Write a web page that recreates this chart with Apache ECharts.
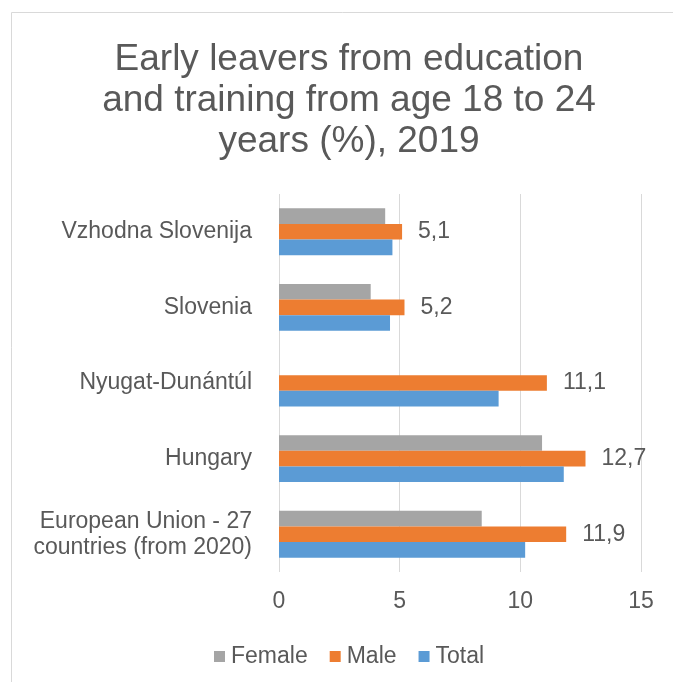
<!DOCTYPE html>
<html>
<head>
<meta charset="utf-8">
<script src="https://cdn.jsdelivr.net/npm/echarts@6/dist/echarts.min.js"></script>
<style>
  html, body { margin: 0; padding: 0; background: #fff; }
  #chart { width: 673px; height: 682px; }
</style>
</head>
<body>
<div id="chart"></div>
<script>
// categories listed bottom-up (category axis starts at the bottom)
const regions = [
  'European Union - 27\ncountries (from 2020)',
  'Hungary',
  'Nyugat-Dunántúl',
  'Slovenia',
  'Vzhodna Slovenija'
];
const female = [8.4, 10.9, null, 3.8, 4.4];
const male = [11.9, 12.7, 11.1, 5.2, 5.1];
const total = [10.2, 11.8, 9.1, 4.6, 4.7];
const xTicks = [0, 5, 10, 15];

const textColor = '#595959';
const font = 'Liberation Sans, Arial, sans-serif';

const chart = echarts.init(document.getElementById('chart'));

const bar = (name, data, color, withLabel) => ({
  name: name,
  type: 'bar',
  data: data,
  barGap: '0%',
  barCategoryGap: '38%',
  itemStyle: { color: color },
  label: {
    show: withLabel,
    position: 'right',
    distance: 16,
    color: textColor,
    fontFamily: font,
    fontSize: 23,
    formatter: (p) => String(p.value).replace('.', ',')
  }
});

chart.setOption({
  animation: false,
  textStyle: { fontFamily: font },
  graphic: [{
    type: 'rect',
    shape: { x: 11.5, y: 12.5, width: 700, height: 700 },
    style: { fill: 'none', stroke: '#d9d9d9', lineWidth: 1 },
    silent: true
  }],
  title: {
    text: 'Early leavers from education\nand training from age 18 to 24\nyears (%), 2019',
    left: 344,
    top: 34,
    textAlign: 'center',
    textStyle: {
      color: textColor,
      fontFamily: font,
      fontSize: 37,
      fontWeight: 'normal',
      lineHeight: 41
    }
  },
  legend: {
    data: ['Female', 'Male', 'Total'],
    left: 209,
    top: 640,
    itemWidth: 11,
    itemHeight: 11,
    itemGap: 22,
    icon: 'rect',
    textStyle: { color: textColor, fontFamily: font, fontSize: 23, padding: [0, 0, 0, 1] }
  },
  grid: { left: 279, right: 32, top: 194, bottom: 110 },
  xAxis: {
    type: 'value',
    min: xTicks[0],
    max: xTicks[xTicks.length - 1],
    interval: xTicks[1] - xTicks[0],
    axisLine: { show: false },
    axisTick: { show: false },
    axisLabel: { color: textColor, fontFamily: font, fontSize: 23, margin: 18 },
    splitLine: { show: true, lineStyle: { color: '#d9d9d9', width: 1 } }
  },
  yAxis: {
    type: 'category',
    data: regions,
    axisLine: { show: false },
    axisTick: { show: false },
    axisLabel: {
      color: textColor,
      fontFamily: font,
      fontSize: 23,
      margin: 27,
      lineHeight: 26,
      align: 'right'
    }
  },
  series: [
    bar('Female', female, '#a5a5a5', false),
    bar('Male', male, '#ed7d31', true),
    bar('Total', total, '#5b9bd5', false)
  ]
});

window.addEventListener('resize', () => chart.resize());
</script>
</body>
</html>
